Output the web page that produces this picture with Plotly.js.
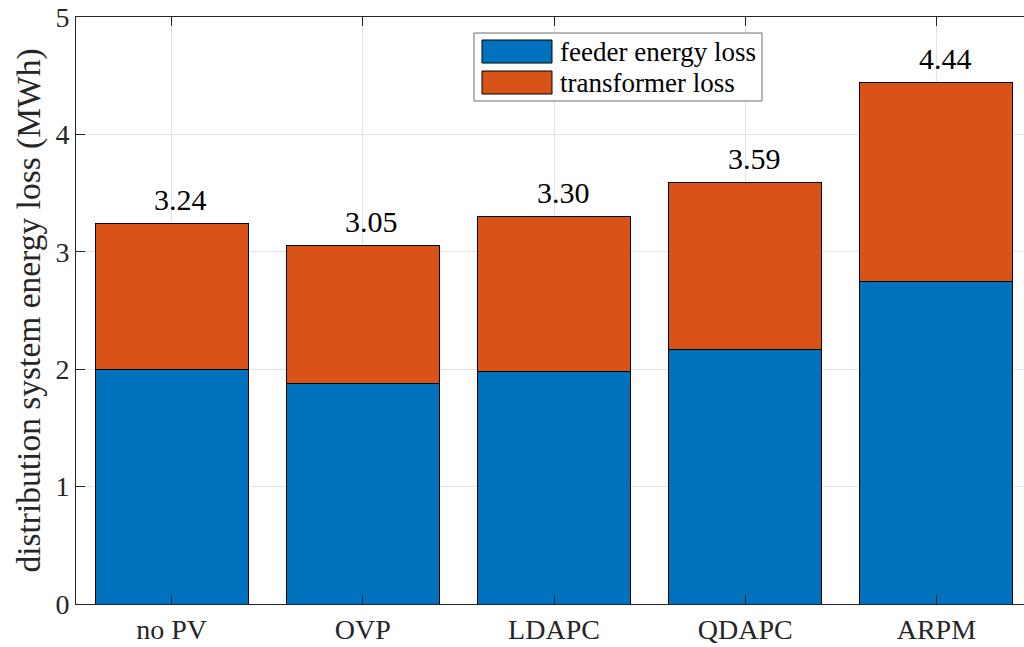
<!DOCTYPE html>
<html>
<head>
<meta charset="utf-8">
<script src="https://cdn.plot.ly/plotly-3.0.1.min.js"></script>
<style>
  html, body { margin: 0; padding: 0; overflow: hidden; background: #fff; }
  #chart { width: 1040px; height: 647px; }
</style>
</head>
<body>
<div id="chart"></div>
<script>
// Scenarios compared
const categories = ['no PV', 'OVP', 'LDAPC', 'QDAPC', 'ARPM'];
// Energy loss components (MWh)
const feederLoss = [2.00, 1.88, 1.98, 2.17, 2.75];
const transformerLoss = [1.24, 1.17, 1.32, 1.42, 1.69];
// Totals printed above the stacks
const totalLoss = [3.24, 3.05, 3.30, 3.59, 4.44];
const seriesNames = ['feeder energy loss', 'transformer loss'];
const seriesColors = ['#0072BD', '#D95319'];
const yTicks = [0, 1, 2, 3, 4, 5];

const FONT = 'Liberation Serif, Times New Roman, serif';

const traces = [feederLoss, transformerLoss].map((vals, i) => ({
  type: 'bar',
  x: categories,
  y: vals,
  name: seriesNames[i],
  width: 0.8,
  marker: { color: seriesColors[i], line: { color: '#000000', width: 1 } },
  hoverinfo: 'x+y+name',
  showlegend: false
}));

// Total labels above each stack
const annotations = categories.map((c, i) => ({
  x: c, y: totalLoss[i], xref: 'x', yref: 'y',
  text: totalLoss[i].toFixed(2),
  showarrow: false, yanchor: 'bottom', yshift: 6, xshift: 9,
  font: { family: FONT, size: 30, color: '#000000' }
}));

// Legend box drawn in paper coordinates
const legendBox = { x0: 0.4163, x1: 0.7176, y0: 0.8569, y1: 0.9727 };
const swatchX = [0.4247, 0.4979];
const swatchRows = [[0.9216, 0.9608], [0.8688, 0.9080]];
const textRows = [0.9412, 0.8884];

const shapes = [{
  type: 'rect', xref: 'paper', yref: 'paper',
  x0: legendBox.x0, x1: legendBox.x1, y0: legendBox.y0, y1: legendBox.y1,
  fillcolor: '#ffffff', line: { color: '#6e6e6e', width: 1 }
}];
seriesNames.forEach((name, i) => {
  shapes.push({
    type: 'rect', xref: 'paper', yref: 'paper',
    x0: swatchX[0], x1: swatchX[1], y0: swatchRows[i][0], y1: swatchRows[i][1],
    fillcolor: seriesColors[i], line: { color: '#000000', width: 1 }
  });
  annotations.push({
    xref: 'paper', yref: 'paper', x: 0.5042, y: textRows[i],
    xanchor: 'left', yanchor: 'middle', showarrow: false,
    text: name, font: { family: FONT, size: 27, color: '#000000' }
  });
});

const layout = {
  width: 1040,
  height: 647,
  margin: { l: 76, r: 8, t: 17, b: 43, pad: 0 },
  paper_bgcolor: '#ffffff',
  plot_bgcolor: '#ffffff',
  barmode: 'stack',
  showlegend: false,
  font: { family: FONT, size: 28, color: '#262626' },
  xaxis: {
    type: 'category',
    range: [-0.5, 4.5],
    showgrid: true, gridcolor: '#e3e3e3', gridwidth: 1,
    showline: true, linecolor: '#262626', linewidth: 1, mirror: 'ticks',
    ticks: 'inside', ticklen: 9, tickcolor: '#262626', tickwidth: 1,
    tickfont: { family: FONT, size: 28, color: '#262626' },
    zeroline: false, fixedrange: true
  },
  yaxis: {
    range: [0, 5],
    tickvals: yTicks,
    showgrid: true, gridcolor: '#e3e3e3', gridwidth: 1,
    showline: true, linecolor: '#262626', linewidth: 1,
    ticks: 'inside', ticklen: 9, tickcolor: '#262626', tickwidth: 1,
    tickfont: { family: FONT, size: 28, color: '#262626' },
    zeroline: false, fixedrange: true,
    title: { text: 'distribution system energy loss (MWh)', font: { family: FONT, size: 33.5, color: '#262626' }, standoff: 4 }
  },
  shapes: shapes,
  annotations: annotations
};

Plotly.newPlot('chart', traces, layout, { displayModeBar: false });
</script>
</body>
</html>
